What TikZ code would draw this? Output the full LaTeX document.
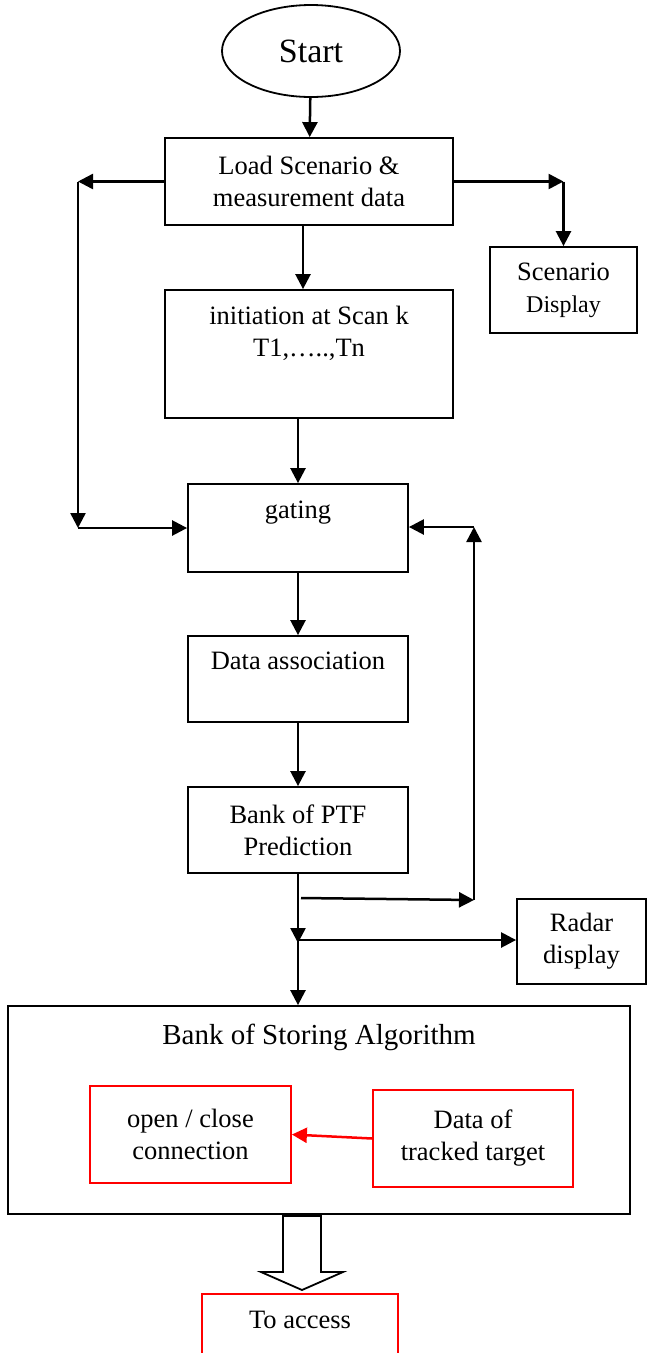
\documentclass[tikz,border=0pt]{standalone}
\usepackage{fontspec}
\setmainfont{Liberation Serif}
\usetikzlibrary{arrows.meta,shapes.geometric,positioning}

\begin{document}
\begin{tikzpicture}[x=1pt,y=-1pt,
    box/.style={draw, line width=1.8pt, inner sep=0pt},
    redbox/.style={draw=red, line width=1.8pt, inner sep=0pt},
    txt/.style={font=\fontsize{26.5}{32}\selectfont, align=center, inner sep=0pt},
    flow/.style={-{Triangle[length=15pt,width=15pt]}, line width=2.5pt}]
    \useasboundingbox (0,0) rectangle (646,1353);
    % main column
    \node[box, ellipse, minimum width=178, minimum height=92, font=\fontsize{34}{40}\selectfont] (start) at (311,51) {Start};
    \node[box, txt, minimum width=288, minimum height=87] (load) at (309,181.5) {Load Scenario \&\\measurement data};
    \node[box, txt, minimum width=147, minimum height=86] (scen) at (563.5,290) {Scenario\\{\fontsize{24}{30}\selectfont Display}};
    \node[box, minimum width=288, minimum height=128] (init) at (309,354) {};
    \node[txt, below=17pt of init.north] (inittxt) {initiation at Scan k\\T1,…..,Tn};
    \node[box, minimum width=220, minimum height=88] (gate) at (298,528) {};
    \node[txt, below=18pt of gate.north] (gatetxt) {gating};
    \node[box, minimum width=220, minimum height=86] (assoc) at (298,679) {};
    \node[txt, below=17pt of assoc.north] (assoctxt) {Data association};
    \node[box, txt, minimum width=220, minimum height=86] (ptf) at (298,830) {Bank of PTF\\Prediction};
    \node[box, txt, minimum width=129, minimum height=85] (radar) at (581.5,941.5) {Radar\\display};
    % storing block
    \node[box, minimum width=622, minimum height=208] (bank) at (319,1110) {};
    \node[font=\fontsize{29}{34}\selectfont, inner sep=0pt, below=19pt of bank.north] (banktxt) {Bank of Storing Algorithm};
    \node[redbox, txt, minimum width=201, minimum height=97] (conn) at (190.5,1134.5) {open / close\\connection};
    \node[redbox, txt, minimum width=200, minimum height=97] (track) at (473,1138.5) {Data of\\tracked target};
    \node[redbox, minimum width=196, minimum height=100] (access) at (300,1344) {};
    \node[txt, below=18pt of access.north] (accesstxt) {To access};
    % corner points
    \coordinate (cl1) at (78,181.5);
    \coordinate (cl2) at (78,528);
    \coordinate (cr1) at (563.5,181.5);
    \coordinate (fb1) at (301,898);
    \coordinate (fb2) at (474,900);
    \coordinate (fb3) at (474,527);
    \coordinate (jn) at (298,940);
    % connectors
    \draw[flow] (start) -- (load);
    \draw[flow] ([xshift=-6]load.south) -- ([xshift=-6]init.north);
    \draw[flow] (gate.north |- init.south) -- (gate.north);
    \draw[flow] (load.west) -- (cl1);
    \draw[flow] (cl1) -- (cl2);
    \draw[flow] (cl2) -- (gate.west);
    \draw[flow] (load.east) -- (cr1);
    \draw[flow] (cr1) -- (scen.north);
    \draw[flow] (gate) -- (assoc);
    \draw[flow] (assoc) -- (ptf);
    \draw[flow] (ptf.south) -- ([yshift=-3]jn);
    \draw[flow] (fb1) -- (fb2);
    \draw[flow] (fb2) -- (fb3);
    \draw[flow] (fb3) -- (fb3 -| gate.east);
    \draw[flow] (jn) -- (jn -| radar.west);
    \draw[flow] (jn) -- (jn |- bank.north);
    \draw[flow, red] (track.west) -- (conn.east);
    % hollow arrow to access
    \draw[line width=1.8pt, fill=white] (283,1216) -- (321,1216) -- (321,1272) -- (343,1272) -- (302,1290) -- (261,1272) -- (283,1272) -- cycle;
\end{tikzpicture}
\end{document}
